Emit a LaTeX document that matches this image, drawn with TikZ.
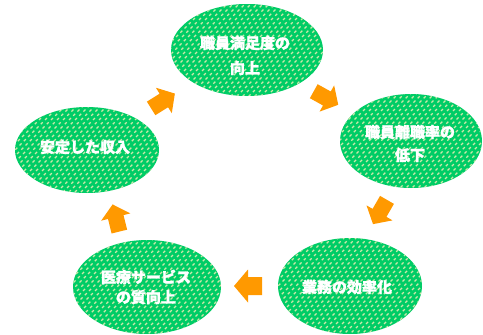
\documentclass[tikz,border=0pt]{standalone}
\usepackage{fontspec}
\newfontfamily\jp{Noto Sans CJK JP}[FakeBold=1.6]
\usetikzlibrary{shapes.geometric}
\definecolor{cgreen}{RGB}{0,204,102}
\definecolor{cdash}{RGB}{205,232,170}
\definecolor{corange}{RGB}{255,153,0}
\tikzset{
  bubble/.style={ellipse, fill=cgreen, inner sep=0pt},
  lbl/.style={text=white, align=center, inner sep=0pt},
  tex/.style={cdash, line width=1.4pt, dash pattern=on 2.8pt off 3.2pt},
  blockarrow/.pic={\fill[corange] (-14,-8) -- (1,-8) -- (1,-15) -- (14,0) -- (1,15) -- (1,8) -- (-14,8) -- cycle;},
  bigarrow/.pic={\fill[corange] (-14,-9) -- (0,-9) -- (0,-16.5) -- (14,0) -- (0,16.5) -- (0,9) -- (-14,9) -- cycle;}
}
\newcommand\texture[3]{%
  \begin{scope}
    \clip (#1.center) ellipse [x radius=#2pt, y radius=#3pt];
    \begin{scope}[shift={(#1.center)}]
      \foreach \k in {-240,-234,...,240}
        \draw[tex] (\k-110,110) -- (\k+110,-110);
    \end{scope}
  \end{scope}}
\begin{document}
\begin{tikzpicture}[x=1pt,y=-1pt]
\fill[white] (0,0) rectangle (483,335);
\useasboundingbox (0,0) rectangle (483,335);

\node[bubble, minimum width=152pt, minimum height=92pt] (top) at (247,50) {};
\texture{top}{76}{46}
\node[bubble, minimum width=142pt, minimum height=94pt] (right) at (411,141) {};
\texture{right}{71}{47}
\node[bubble, minimum width=144pt, minimum height=86pt] (left) at (87,150) {};
\texture{left}{72}{43}
\node[bubble, minimum width=148pt, minimum height=94pt] (bl) at (147,287) {};
\texture{bl}{74}{47}
\node[bubble, minimum width=144pt, minimum height=96pt] (br) at (350,286) {};
\texture{br}{72}{48}

\node[lbl, font=\jp\bfseries\fontsize{15}{25}\selectfont] (ttop) at (245,55.5) {職員満足度の\\向上};
\node[lbl, font=\jp\bfseries\fontsize{15}{23}\selectfont] (tright) at (410,143.5) {職員離職率の\\低下};
\node[lbl, font=\jp\bfseries\fontsize{15}{20}\selectfont] (tleft) at (85,147) {安定した収入};
\node[lbl, font=\jp\bfseries\fontsize{15}{20}\selectfont] (tbl) at (146,287) {医療サービス\\の質向上};
\node[lbl, font=\jp\bfseries\fontsize{15}{20}\selectfont] (tbr) at (347,287) {業務の効率化};

\pic[rotate=32] (arrA) at (163,101) {blockarrow};
\pic[rotate=-29] (arrB) at (326,98) {blockarrow};
\pic[rotate=240] (arrC) at (380,212) {blockarrow};
\pic[rotate=180] (arrD) at (248,286) {bigarrow};
\pic[rotate=104] (arrE) at (116,218) {blockarrow};
\end{tikzpicture}
\end{document}
